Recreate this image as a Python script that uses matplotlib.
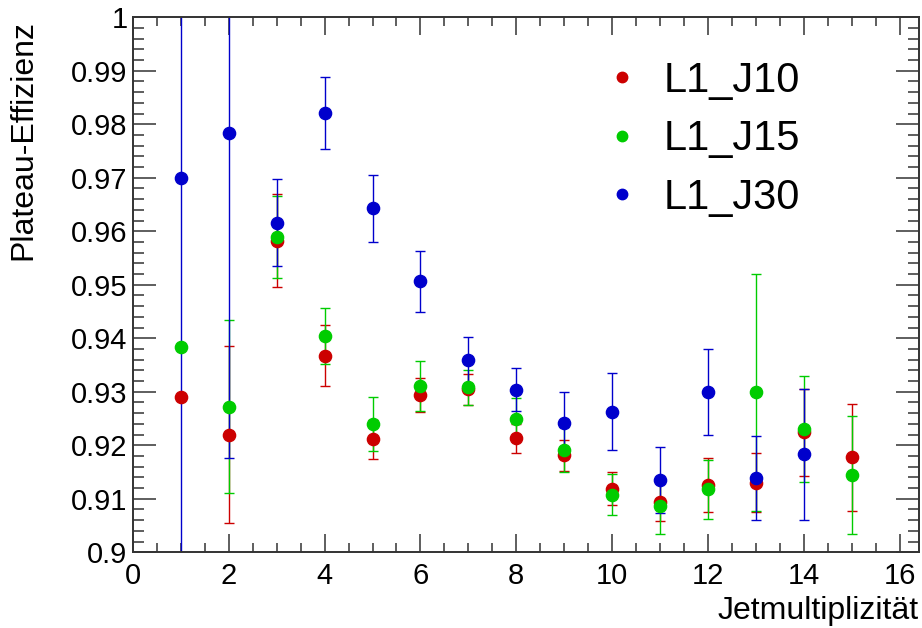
import matplotlib
matplotlib.use("Agg")
import matplotlib.pyplot as plt
from matplotlib.ticker import FixedLocator, MultipleLocator, FixedFormatter

plt.rcParams['font.family'] = ['Liberation Sans', 'DejaVu Sans']

# ---- data ----
x_j10 = [1, 2, 3, 4, 5, 6, 7, 8, 9, 10, 11, 12, 13, 14, 15]
eff_j10 = [0.9291, 0.9220, 0.9582, 0.9367, 0.9211, 0.9294, 0.9305, 0.9213, 0.9181, 0.9119, 0.9094, 0.9126, 0.9130, 0.9224, 0.9178]
err_j10 = [0.0, 0.0166, 0.0087, 0.0057, 0.0037, 0.0032, 0.0029, 0.0027, 0.0029, 0.0031, 0.0036, 0.0050, 0.0055, 0.0081, 0.0100]

x_j15 = [1, 2, 3, 4, 5, 6, 7, 8, 9, 10, 11, 12, 13, 14, 15]
eff_j15 = [0.9384, 0.9272, 0.9589, 0.9404, 0.9240, 0.9311, 0.9308, 0.9249, 0.9192, 0.9108, 0.9087, 0.9118, 0.9299, 0.9230, 0.9144]
err_j15 = [0.0, 0.0162, 0.0076, 0.0052, 0.0050, 0.0047, 0.0033, 0.0040, 0.0042, 0.0038, 0.0052, 0.0055, 0.0222, 0.0099, 0.0110]

x_j30 = [1, 2, 3, 4, 5, 6, 7, 8, 9, 10, 11, 12, 13, 14]
eff_j30 = [0.9699, 0.9784, 0.9616, 0.9821, 0.9643, 0.9507, 0.9359, 0.9304, 0.9242, 0.9263, 0.9135, 0.9299, 0.9139, 0.9183]
err_j30 = [0.10, 0.0608, 0.0081, 0.0067, 0.0063, 0.0057, 0.0044, 0.0040, 0.0058, 0.0072, 0.0061, 0.0080, 0.0078, 0.0123]

series_labels = ['L1_J10', 'L1_J15', 'L1_J30']
series_colors = ['#cc0000', '#00cc00', '#0000cc']

x_ticks = [0, 2, 4, 6, 8, 10, 12, 14, 16]
x_ticklabels = ['0', '2', '4', '6', '8', '10', '12', '14', '16']
y_ticks = [0.90, 0.91, 0.92, 0.93, 0.94, 0.95, 0.96, 0.97, 0.98, 0.99, 1.00]
y_ticklabels = ['0.9', '0.91', '0.92', '0.93', '0.94', '0.95', '0.96', '0.97', '0.98', '0.99', '1']

x_title = 'Jetmultiplizität'
y_title = 'Plateau-Effizienz'

# ---- figure ----
fig = plt.figure(figsize=(9.22, 6.28), dpi=100)
ax = fig.add_axes([133/922, 1 - 552.3/628, (918.7 - 133)/922, (552.3 - 17.2)/628])

data = [(x_j10, eff_j10, err_j10), (x_j15, eff_j15, err_j15), (x_j30, eff_j30, err_j30)]
handles = []
for (xs, ys, es), lab, col in zip(data, series_labels, series_colors):
    ax.errorbar(xs, ys, yerr=es, fmt='o', color=col, ecolor=col,
                markersize=8.8, elinewidth=1.0, capsize=3.5, capthick=1.0,
                label=lab)
    h, = ax.plot([], [], 'o', color=col, markersize=7.5, label=lab)
    handles.append(h)

ax.set_xlim(0, 16.4)
ax.set_ylim(0.9, 1.0)

ax.xaxis.set_major_locator(FixedLocator(x_ticks))
ax.xaxis.set_major_formatter(FixedFormatter(x_ticklabels))
ax.xaxis.set_minor_locator(MultipleLocator(0.5))
ax.yaxis.set_major_locator(FixedLocator(y_ticks))
ax.yaxis.set_major_formatter(FixedFormatter(y_ticklabels))
ax.yaxis.set_minor_locator(MultipleLocator(0.002))

ax.tick_params(axis='both', which='both', direction='in', top=True, right=True,
               color='#333333', width=1.1, labelsize=21)
ax.tick_params(axis='x', which='major', length=13, pad=7)
ax.tick_params(axis='x', which='minor', length=6.5)
ax.tick_params(axis='y', which='major', length=16.5, pad=4)
ax.tick_params(axis='y', which='minor', length=8)

for sp in ax.spines.values():
    sp.set_linewidth(1.4)
    sp.set_color('#333333')

ax.set_xlabel(x_title, fontsize=23, loc='right')
ax.xaxis.set_label_coords(1.0, -0.082)
ax.set_ylabel(y_title, fontsize=23, loc='top')
ax.yaxis.set_label_coords(-0.120, 0.995)

leg = ax.legend(handles=handles, labels=series_labels, loc='upper left',
                bbox_to_anchor=(609/922, 1 - 61/628), bbox_transform=fig.transFigure,
                frameon=False, fontsize=30, handlelength=0.6, handletextpad=0.72,
                labelspacing=0.44, borderpad=0, borderaxespad=0)

fig.savefig('out.png', dpi=100)
